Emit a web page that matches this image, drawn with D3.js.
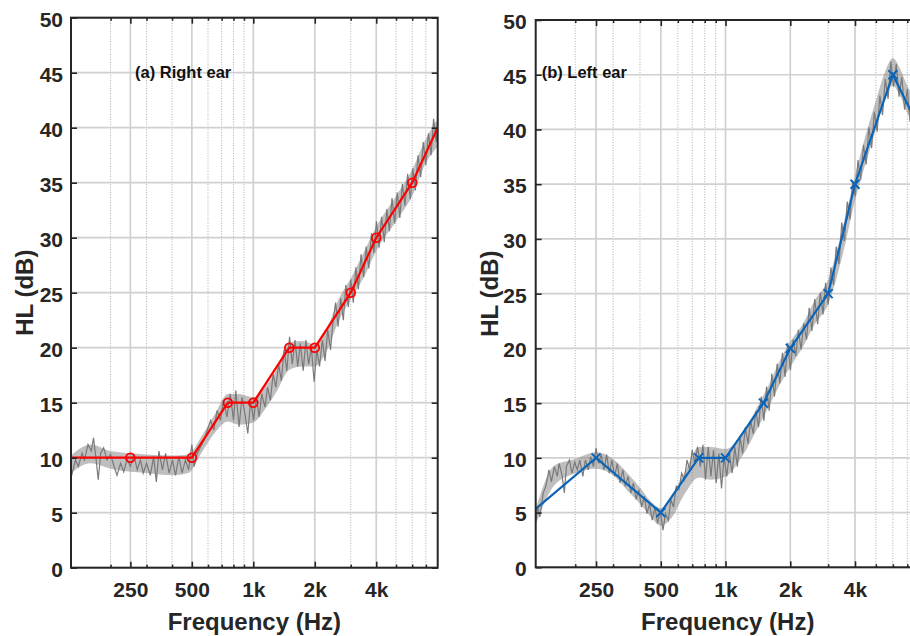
<!DOCTYPE html>
<html><head><meta charset="utf-8">
<script src="https://cdn.jsdelivr.net/npm/d3@7"></script>
<style>
body{margin:0;background:#fff}
svg text{font-family:"Liberation Sans",Arial,Helvetica,sans-serif;font-weight:bold}
</style>
</head><body>
<svg id="chart" width="910" height="636"></svg>
<script>
// ---------------- DATA ----------------
const xTickValues = [250, 500, 1000, 2000, 4000];
const xTickLabels = ["250", "500", "1k", "2k", "4k"];
const xMinorTicks = [200, 300, 400, 600, 700, 800, 900, 3000, 5000, 6000, 7000];
const yTicks = [0, 5, 10, 15, 20, 25, 30, 35, 40, 45, 50];

// Audiogram (right ear, red circles)
const rightEarFreq = [125, 250, 500, 750, 1000, 1500, 2000, 3000, 4000, 6000, 8000];
const rightEarHL   = [10, 10, 10, 15, 15, 20, 20, 25, 30, 35, 40];
// Audiogram (left ear, blue crosses)
const leftEarFreq = [125, 250, 500, 750, 1000, 1500, 2000, 3000, 4000, 6000, 8000];
const leftEarHL   = [5, 10, 5, 10, 10, 15, 20, 25, 35, 45, 40];

const rightEarTrace = [[129,8.4],[134.6,9.8],[139,9.2],[145,10.4],[149,9.8],[155,11.2],[161,10.6],[165,11.8],[170,9.8],[174,8.0],[179,10.4],[185,10.9],[192,9.8],[200,10.3],[208,9.2],[215,8.4],[224,9.5],[232,8.7],[241,9.9],[250,9.2],[260,10.3],[270,8.9],[280,9.8],[289,8.6],[300,9.5],[313,8.4],[325,10.1],[335,7.8],[345,10.6],[359,8.9],[372,10.4],[387,8.6],[402,9.8],[416,8.4],[432,10.1],[448,8.6],[465,9.8],[482,8.9],[500,11.2],[513,9.2],[532,10.4],[553,11.0],[574,11.6],[595,12.5],[618,13.4],[641,12.5],[665,14.3],[690,13.4],[716,15.2],[743,13.7],[771,15.8],[800,13.4],[821,16.1],[852,12.8],[880,15.5],[910,14.0],[940,12.2],[970,15.2],[1003,13.4],[1035,15.5],[1068,13.7],[1100,15.8],[1140,14.6],[1175,16.4],[1212,15.2],[1250,17.6],[1290,16.4],[1330,18.5],[1372,17.0],[1415,19.8],[1460,17.9],[1505,21.0],[1552,18.5],[1600,20.7],[1650,18.3],[1700,20.4],[1755,17.9],[1810,20.7],[1866,18.5],[1925,20.0],[1985,16.9],[2048,19.8],[2110,18.3],[2180,20.7],[2245,18.8],[2315,21.6],[2390,19.8],[2460,22.5],[2530,24.1],[2600,21.9],[2680,24.5],[2760,22.5],[2840,25.7],[2920,23.7],[3000,26.2],[3090,24.1],[3180,27.3],[3270,25.3],[3370,28.5],[3470,26.4],[3570,29.2],[3680,27.2],[3790,30.4],[3900,28.6],[4010,31.5],[4130,29.1],[4250,31.9],[4380,29.6],[4510,32.6],[4640,30.6],[4780,33.6],[4920,31.3],[5070,34.1],[5220,31.8],[5370,34.9],[5530,32.9],[5700,35.8],[5870,33.5],[6040,36.3],[6220,34.3],[6410,37.5],[6600,35.5],[6800,38.7],[7000,36.6],[7210,39.5],[7420,37.5],[7640,40.8],[7870,38.7],[8000,40.8]];
const leftEarTrace = [[131.3,4.3],[134,5.5],[137,4.6],[142,6.8],[146,7.4],[151,8.9],[155,7.8],[160,9.2],[165,8.3],[168.5,9.5],[174,8.3],[178,6.8],[182,9.2],[188,9.8],[193,8.6],[199,9.6],[204.5,8.9],[210,9.8],[217,8.3],[223,9.8],[230,8.9],[236,10.1],[243,9.2],[250,10.9],[257,9.5],[264,10.3],[272,8.9],[280,10.3],[288,8.6],[296,9.8],[305,8.3],[314,9.5],[323,7.7],[333,8.9],[342,7.4],[352,8.3],[363,6.8],[373,7.7],[384,6.2],[395,7.1],[407,5.5],[419,6.5],[431,4.9],[443,5.8],[456,4.3],[470,5.5],[483,4.0],[497,5.2],[512,3.4],[526,4.9],[542,4.3],[557,6.2],[573,5.5],[590,7.4],[607,7.1],[625,8.6],[643,8.0],[662,9.8],[681,8.9],[700,10.7],[720,9.5],[741,11.0],[763,9.2],[785,11.2],[807,8.0],[831,11.0],[855,8.3],[879,10.7],[905,7.7],[931,10.4],[958,7.2],[985,10.1],[1013,8.3],[1042,10.4],[1073,8.6],[1104,11.0],[1135,9.2],[1168,11.9],[1201,10.4],[1236,12.8],[1272,11.3],[1308,13.4],[1346,12.2],[1385,14.3],[1424,12.8],[1465,15.6],[1508,13.4],[1551,16.5],[1596,14.3],[1642,17.7],[1689,15.6],[1738,18.6],[1788,16.8],[1839,19.6],[1892,17.4],[1947,20.5],[2003,18.0],[2061,20.8],[2120,19.3],[2181,21.7],[2244,19.9],[2309,22.3],[2380,20.8],[2450,23.7],[2520,21.6],[2600,24.5],[2680,22.2],[2760,25.1],[2840,23.1],[2920,26.0],[3000,24.0],[3090,27.4],[3180,25.8],[3270,29.3],[3370,27.7],[3470,31.5],[3570,29.8],[3680,33.4],[3790,31.8],[3900,35.3],[4010,33.9],[4130,37.2],[4250,35.4],[4380,38.6],[4510,36.8],[4640,40.2],[4780,38.3],[4920,41.6],[5070,39.8],[5220,43.1],[5370,41.3],[5530,44.6],[5700,42.8],[5870,46.2],[6040,43.9],[6220,46.0],[6410,43.0],[6600,44.8],[6800,41.8],[7000,43.7],[7210,40.7],[7420,42.6],[7640,39.7],[7870,41.5],[8000,40.0]];

// Envelope of the gray traces [Hz, low dB, high dB]
const rightEarBand = [[128,8.6,10.2],[160,9.5,11.2],[200,9.0,10.6],[300,8.6,10.3],[400,8.4,10.2],[480,8.6,10.3],[560,10.5,12.0],[650,12.3,14.0],[750,13.3,15.8],[850,13.0,15.8],[1000,13.2,15.5],[1150,14.5,16.5],[1300,16.0,18.0],[1500,18.0,20.5],[1750,18.3,20.6],[2000,18.3,20.3],[2300,19.8,21.8],[2600,22.3,24.3],[3000,24.4,26.3],[3500,26.5,28.8],[4000,28.8,31.0],[5000,31.5,33.8],[6000,33.8,36.2],[7000,36.8,39.0],[8000,38.3,40.8]];
const leftEarBand = [[131,3.9,5.3],[160,7.5,9.3],[200,8.6,9.9],[250,9.0,10.5],[300,8.4,9.9],[350,7.0,8.6],[400,5.8,7.3],[450,4.6,6.0],[500,3.8,5.4],[560,4.5,6.5],[650,6.8,8.8],[750,8.2,11.0],[850,8.0,11.0],[1000,8.3,10.8],[1200,10.2,12.3],[1400,12.6,14.6],[1600,14.8,16.8],[1800,16.8,19.0],[2000,18.3,20.6],[2300,20.2,22.3],[2600,22.2,24.4],[3000,24.0,26.3],[3500,28.5,31.0],[4000,33.5,35.8],[4500,37.0,39.6],[5000,40.0,42.6],[5500,42.8,45.2],[6000,44.0,46.5],[6500,43.0,45.5],[7000,41.5,44.0],[7500,40.5,43.0],[8000,39.5,42.0]];

// ---------------- LAYOUT ----------------
const panels = [
  {key:"a", x0:71, x1:437.7, y0:17.7, y1:567.7, fmin:128, fmax:8000,
   title:"(a) Right ear", titleX:135, titleY:78, ylabX:33, yPad:8,
   freq:rightEarFreq, hl:rightEarHL, trace:rightEarTrace, band:rightEarBand,
   color:"#ff0000", marker:"circle"},
  {key:"b", x0:535.7, x1:919.75, y0:20, y1:567.3, fmin:131, fmax:8000,
   title:"(b) Left ear", titleX:541.7, titleY:78, ylabX:498, yPad:9,
   freq:leftEarFreq, hl:leftEarHL, trace:leftEarTrace, band:leftEarBand,
   color:"#0a64b8", marker:"cross"}
];

const svg = d3.select("#chart");
const INK = "#262626";

panels.forEach(p => {
  const x = d3.scaleLog().domain([p.fmin, p.fmax]).range([p.x0, p.x1]);
  const y = d3.scaleLinear().domain([0, 50]).range([p.y1, p.y0]);
  const W = p.x1 - p.x0, H = p.y1 - p.y0;
  const g = svg.append("g");

  g.append("clipPath").attr("id", "clip-" + p.key)
    .append("rect").attr("x", p.x0).attr("y", p.y0).attr("width", W).attr("height", H);

  // grid
  const grid = g.append("g");
  grid.selectAll("line.minor").data(xMinorTicks).join("line")
    .attr("x1", d => x(d)).attr("x2", d => x(d)).attr("y1", p.y0).attr("y2", p.y1)
    .attr("stroke", "#ababab").attr("stroke-width", 1).attr("stroke-dasharray", "1,1.6");
  grid.selectAll("line.major").data(xTickValues).join("line")
    .attr("x1", d => x(d)).attr("x2", d => x(d)).attr("y1", p.y0).attr("y2", p.y1)
    .attr("stroke", "#d0d0d0").attr("stroke-width", 1.7);
  grid.selectAll("line.h").data(yTicks).join("line")
    .attr("x1", p.x0).attr("x2", p.x1).attr("y1", d => y(d)).attr("y2", d => y(d))
    .attr("stroke", "#d0d0d0").attr("stroke-width", 1.7);

  const plot = g.append("g").attr("clip-path", `url(#clip-${p.key})`);

  // gray band + trace
  plot.append("path").datum(p.band)
    .attr("d", d3.area().x(d => x(d[0])).y0(d => y(d[1])).y1(d => y(d[2])).curve(d3.curveMonotoneX))
    .attr("fill", "#8a8a8a").attr("fill-opacity", 0.55);
  plot.append("path").datum(p.trace)
    .attr("d", d3.line().x(d => x(d[0])).y(d => y(d[1])))
    .attr("fill", "none").attr("stroke", "#7a7a7a").attr("stroke-width", 1.2);

  // audiogram line
  const pts = p.freq.map((f, i) => [f, p.hl[i]]);
  plot.append("path").datum(pts)
    .attr("d", d3.line().x(d => x(d[0])).y(d => y(d[1])))
    .attr("fill", "none").attr("stroke", p.color).attr("stroke-width", 2.2);

  const mk = plot.selectAll("g.mk").data(pts.filter(d => d[0] > p.fmin && d[0] < p.fmax)).join("g")
    .attr("transform", d => `translate(${x(d[0])},${y(d[1])})`);
  if (p.marker === "circle") {
    mk.append("circle").attr("r", 4.4).attr("fill", "none").attr("stroke", p.color).attr("stroke-width", 1.8);
  } else {
    mk.append("path").attr("d", "M-4.5,-4.5L4.5,4.5M-4.5,4.5L4.5,-4.5")
      .attr("stroke", p.color).attr("stroke-width", 2);
  }

  // axes (ticks inward)
  const styleAxis = sel => {
    sel.attr("color", INK).attr("font-family", '"Liberation Sans",Arial,sans-serif')
      .attr("font-size", 21).attr("font-weight", "bold");
    sel.select(".domain").remove();
    sel.selectAll(".tick line").attr("stroke-width", 1.6);
  };
  g.append("g").attr("transform", `translate(0,${p.y1})`)
    .call(d3.axisBottom(x).tickValues(xTickValues).tickFormat((d, i) => xTickLabels[i])
      .tickSizeInner(-6).tickSizeOuter(0).tickPadding(14.4)).call(styleAxis);
  g.append("g").attr("transform", `translate(0,${p.y1})`)
    .call(d3.axisBottom(x).tickValues(xMinorTicks).tickFormat("").tickSizeInner(-3).tickSizeOuter(0)).call(styleAxis);
  g.append("g").attr("transform", `translate(0,${p.y0})`)
    .call(d3.axisTop(x).tickValues(xTickValues).tickFormat("").tickSizeInner(-6).tickSizeOuter(0)).call(styleAxis);
  g.append("g").attr("transform", `translate(0,${p.y0})`)
    .call(d3.axisTop(x).tickValues(xMinorTicks).tickFormat("").tickSizeInner(-3).tickSizeOuter(0)).call(styleAxis);
  const ya = g.append("g").attr("transform", `translate(${p.x0},0)`)
    .call(d3.axisLeft(y).tickValues(yTicks).tickSizeInner(-6).tickSizeOuter(0).tickPadding(p.yPad)).call(styleAxis);
  ya.selectAll(".tick text").attr("dy", "0.4em");
  g.append("g").attr("transform", `translate(${p.x1},0)`)
    .call(d3.axisRight(y).tickValues(yTicks).tickFormat("").tickSizeInner(-6).tickSizeOuter(0)).call(styleAxis);

  // frame
  g.append("rect").attr("x", p.x0).attr("y", p.y0).attr("width", W).attr("height", H)
    .attr("fill", "none").attr("stroke", INK).attr("stroke-width", 2);

  // labels
  g.append("text").attr("x", (p.x0 + p.x1) / 2).attr("y", 630).attr("text-anchor", "middle")
    .attr("font-size", 24).attr("fill", INK).text("Frequency (Hz)");
  g.append("text").attr("transform", `translate(${p.ylabX},${(p.y0 + p.y1) / 2}) rotate(-90)`)
    .attr("text-anchor", "middle").attr("font-size", 24).attr("fill", INK).text("HL (dB)");
  g.append("text").attr("x", p.titleX).attr("y", p.titleY).attr("font-size", 16.5)
    .attr("fill", "#111").text(p.title);
});
</script>
</body></html>
